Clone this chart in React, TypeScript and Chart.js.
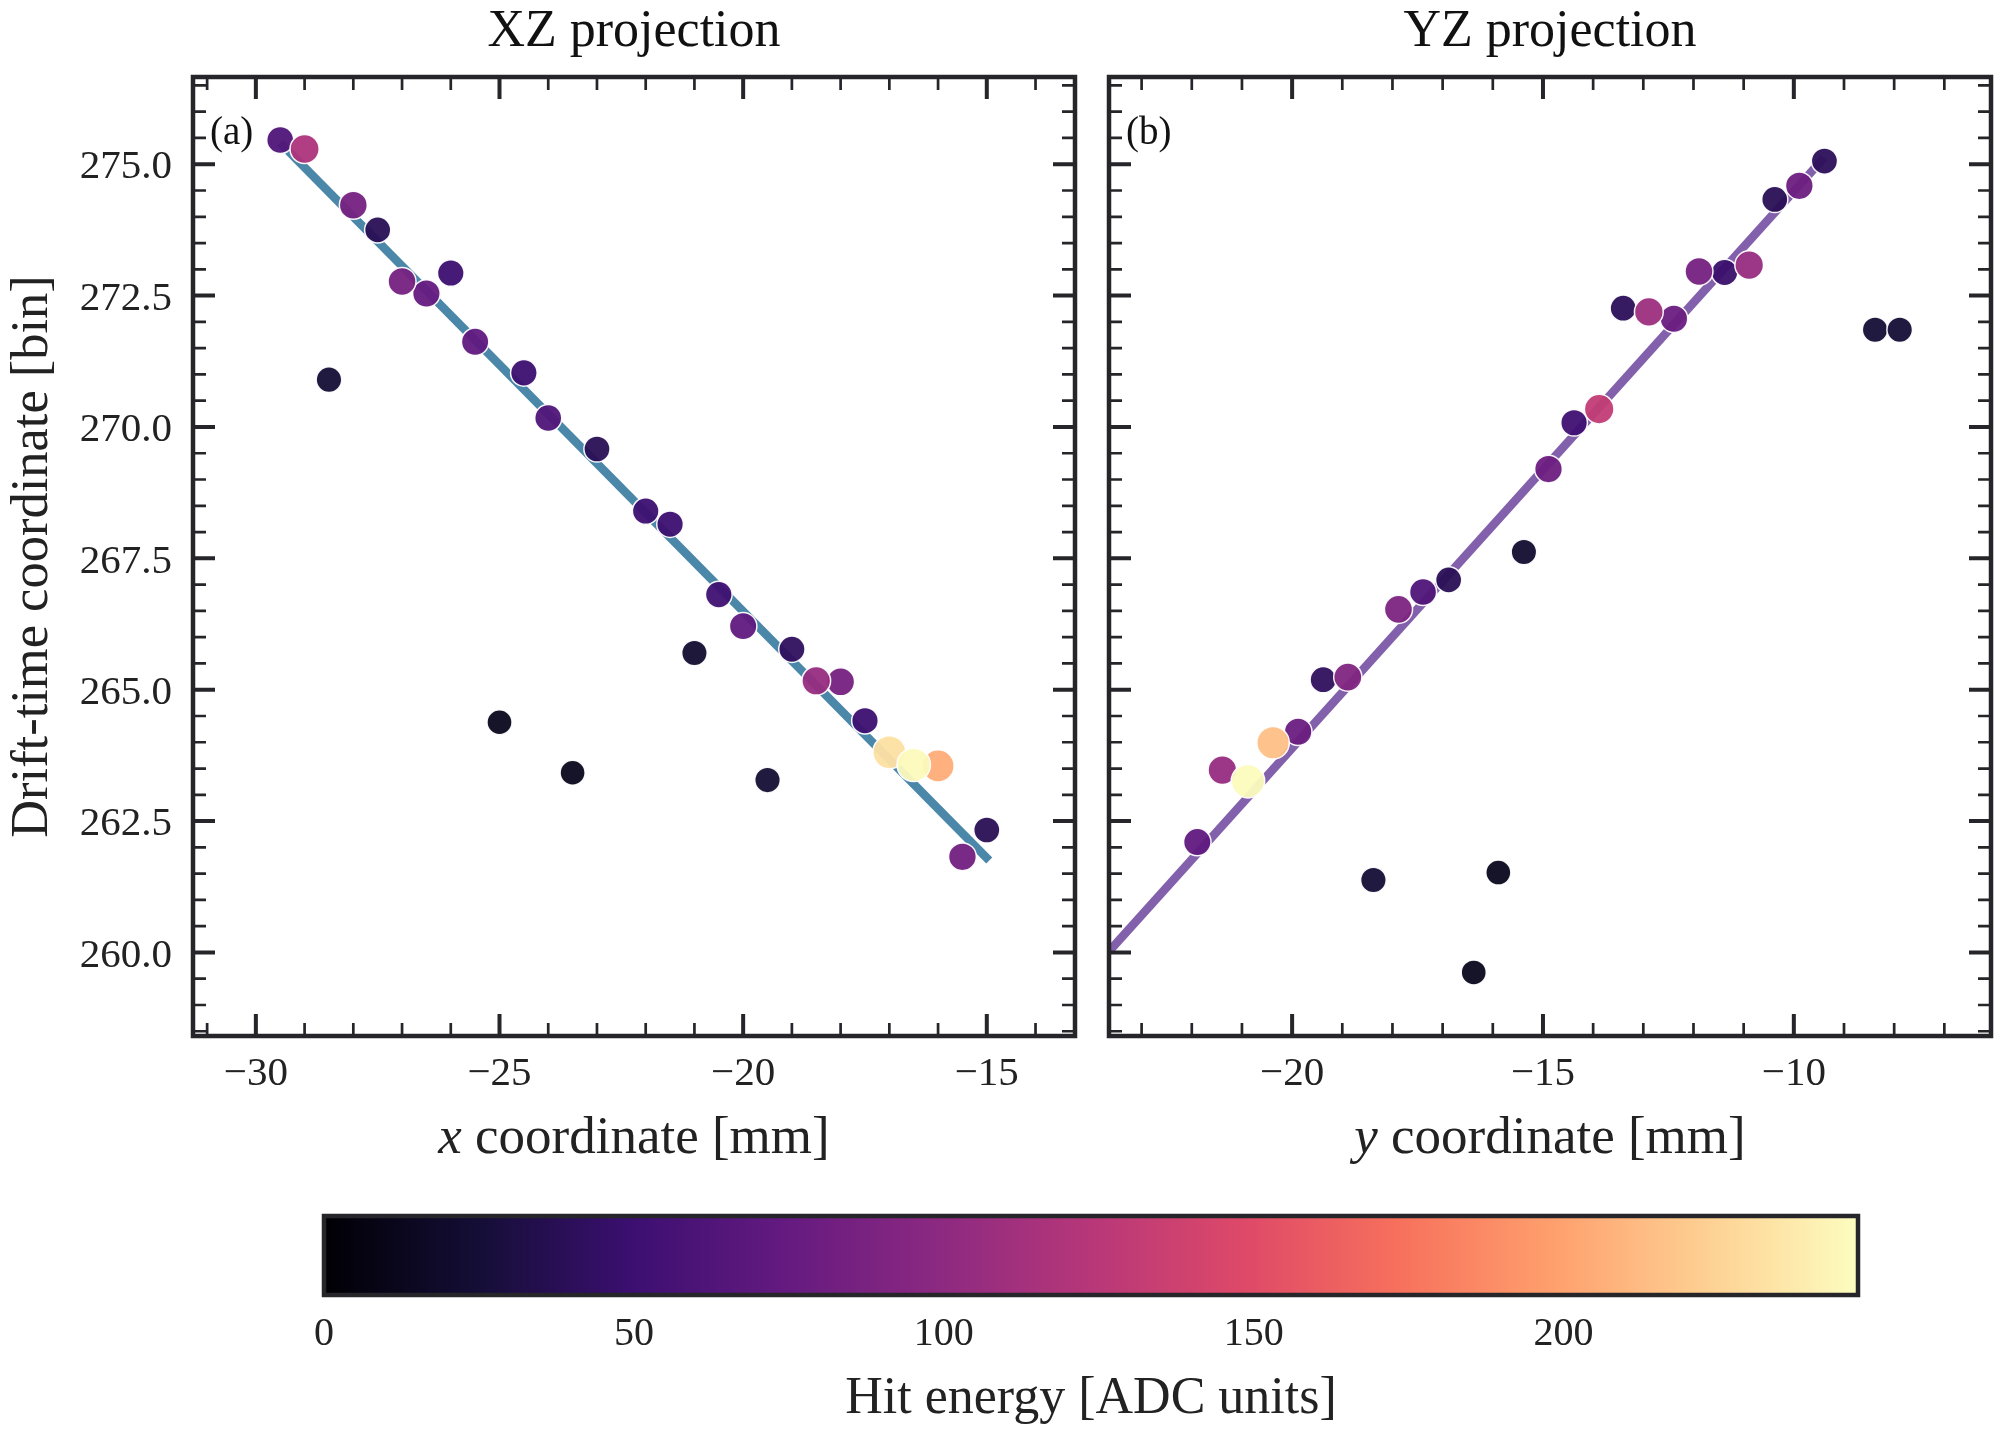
import React, { useEffect, useRef } from "react";
import { Chart, registerables } from "chart.js";

Chart.register(...registerables);

const FONT = '"Liberation Serif"';
const INK = "#26262a";

const xzX = [-29.5,-29,-28,-27.5,-27,-26.5,-26,-25.5,-24.5,-24,-23,-22,-21.5,-20.5,-20,-19,-18.5,-18,-17.5,-17,-16.5,-16,-15.5,-15,-28.5,-25,-23.5,-21,-19.5];
const xzZ = [275.46,275.29,274.22,273.75,272.77,272.54,272.93,271.62,271.03,270.17,269.58,268.4,268.15,266.81,266.21,265.77,265.17,265.15,264.41,263.81,263.57,263.55,261.82,262.33,270.9,264.38,263.42,265.7,263.28];
const xzE = [62,118,85,38,85,75,50,72,50,62,38,50,50,52,72,42,105,85,50,232,246,205,82,38,25,12,12,22,24];

const yzY = [-9.39,-9.89,-10.38,-10.89,-11.38,-11.89,-12.39,-12.89,-13.4,-13.88,-14.38,-14.89,-15.38,-16.88,-17.39,-17.88,-18.89,-19.38,-19.88,-20.38,-20.88,-21.39,-21.89,-18.38,-15.89,-16.38,-8.38,-7.89];
const yzZ = [275.06,274.59,274.33,273.08,272.94,272.96,272.06,272.19,272.26,270.34,270.08,269.2,267.62,267.09,266.86,266.53,265.24,265.19,264.2,263.99,263.26,263.47,262.1,261.38,261.52,259.62,271.85,271.85];
const yzE = [40,80,38,105,48,85,78,108,40,130,52,80,22,38,62,90,92,42,78,215,247,105,72,25,12,12,25,25];

const fitXZx = [-29.5, -14.95];
const fitXZz = [275.41, 261.75];
const fitYZy = [-23.65, -9.4];
const fitYZz = [260.02, 275.12];

const magmaStops = ["#000004","#140e36","#3b0f70","#641a80","#8c2981","#b73779","#de4968","#f7705c","#fe9f6d","#fecf92","#fcfdbf"];
const colorbarRange = [0, 247.5];
const colorbarTicks = [0, 50, 100, 150, 200];

const hex = (h: string) => [1, 3, 5].map((i) => parseInt(h.slice(i, i + 2), 16));
function magma(e: number) {
  const t = Math.min(1, Math.max(0, e / colorbarRange[1])) * (magmaStops.length - 1);
  const i = Math.min(magmaStops.length - 2, Math.floor(t));
  const a = hex(magmaStops[i]);
  const b = hex(magmaStops[i + 1]);
  const f = t - i;
  const c = a.map((v, k) => Math.round(v + (b[k] - v) * f));
  return `rgba(${c[0]},${c[1]},${c[2]},0.95)`;
}
const radiusOf = (e: number) => Math.sqrt(680 + 2.2 * e) / 2 - 0.75;

function hits(xs: number[], zs: number[], es: number[]) {
  const order = xs.map((_, i) => i).sort((a, b) => es[a] - es[b]);
  return {
    data: order.map((i) => ({ x: xs[i], y: zs[i] })),
    pointBackgroundColor: order.map((i) => magma(es[i])),
    pointRadius: order.map((i) => radiusOf(es[i])),
    pointHoverRadius: order.map((i) => radiusOf(es[i])),
    pointBorderColor: "rgba(255,255,255,0.95)",
    pointBorderWidth: 1.5,
    showLine: false,
    order: 1,
  };
}

const minusFmt = (v: number) => (v < 0 ? "\u2212" + Math.abs(v) : String(v));

function framePlugin(panelLabel: string, italic: string, rest: string) {
  return {
    id: "frame",
    afterDraw(chart: any) {
      const { ctx, chartArea: a } = chart;
      ctx.save();
      ctx.strokeStyle = INK;
      const sx = chart.scales.x;
      const sy = chart.scales.y;
      ctx.lineCap = "butt";
      for (const t of sx.ticks) {
        const p = sx.getPixelForValue(t.value);
        const major = t.label !== "";
        ctx.lineWidth = major ? 4 : 2.7;
        const len = major ? 22 : 13;
        ctx.beginPath();
        ctx.moveTo(p, a.top); ctx.lineTo(p, a.top + len);
        ctx.moveTo(p, a.bottom); ctx.lineTo(p, a.bottom - len);
        ctx.stroke();
      }
      for (const t of sy.ticks) {
        const p = sy.getPixelForValue(t.value);
        const major = t.label !== "";
        ctx.lineWidth = major ? 4 : 2.7;
        const len = major ? 22 : 13;
        ctx.beginPath();
        ctx.moveTo(a.left, p); ctx.lineTo(a.left + len, p);
        ctx.moveTo(a.right, p); ctx.lineTo(a.right - len, p);
        ctx.stroke();
      }
      ctx.lineWidth = 4.5;
      ctx.strokeRect(a.left, a.top, a.right - a.left, a.bottom - a.top);

      ctx.fillStyle = "#111";
      ctx.textBaseline = "middle";
      ctx.textAlign = "left";
      ctx.font = `39px ${FONT}`;
      ctx.fillText(panelLabel, a.left + 17, a.top + 57);

      ctx.fillStyle = "#222";
      ctx.textBaseline = "alphabetic";
      ctx.font = `italic 53px ${FONT}`;
      const w1 = ctx.measureText(italic).width;
      ctx.font = `53px ${FONT}`;
      const w2 = ctx.measureText(rest).width;
      const left = (a.left + a.right) / 2 - (w1 + w2) / 2;
      ctx.font = `italic 53px ${FONT}`;
      ctx.fillText(italic, left, 1153);
      ctx.font = `53px ${FONT}`;
      ctx.fillText(rest, left + w1, 1153);
      ctx.restore();
    },
  };
}

function panel(canvas: HTMLCanvasElement, o: any) {
  return new Chart(canvas, {
    type: "scatter",
    plugins: [framePlugin(o.tag, o.italic, o.rest)],
    data: {
      datasets: [
        { ...hits(o.xs, o.zs, o.es) },
        {
          data: o.fitX.map((x: number, i: number) => ({ x, y: o.fitZ[i] })),
          showLine: true,
          pointRadius: 0,
          borderColor: o.lineColor,
          borderWidth: 8.5,
          borderCapStyle: "butt",
          order: 2,
        },
      ],
    } as any,
    options: {
      responsive: false,
      animation: false,
      devicePixelRatio: 1,
      events: [],
      layout: { autoPadding: false, padding: o.padding },
      plugins: {
        legend: { display: false },
        tooltip: { enabled: false },
        title: {
          display: true,
          text: o.title,
          fullSize: false,
          color: "#111",
          font: { family: FONT, size: 52, lineHeight: 1, weight: "normal" },
          padding: { top: 6, bottom: 19 },
        },
      },
      scales: {
        x: {
          type: "linear",
          min: o.xMin,
          max: o.xMax,
          grid: { display: false, drawTicks: false },
          border: { display: false },
          afterFit: (s: any) => {
            s.height = 1180 - 1036;
            s.paddingLeft = 0;
            s.paddingRight = 0;
          },
          ticks: {
            stepSize: 1,
            includeBounds: false,
            autoSkip: false,
            maxRotation: 0,
            padding: 18,
            color: "#222",
            font: { family: FONT, size: 41, lineHeight: 1 },
            callback: (v: any) => (Number(v) % 5 === 0 ? minusFmt(Number(v)) : ""),
          },
        },
        y: {
          type: "linear",
          min: 258.41,
          max: 276.66,
          grid: { display: false, drawTicks: false },
          border: { display: false },
          afterFit: (s: any) => {
            s.width = o.yWidth;
            s.paddingTop = 0;
            s.paddingBottom = 0;
          },
          title: o.yTitle
            ? {
                display: true,
                text: o.yTitle,
                color: "#222",
                font: { family: FONT, size: 52.5, lineHeight: 1 },
                padding: { top: 7, bottom: 0 },
              }
            : { display: false },
          ticks: {
            display: o.yLabels,
            stepSize: 0.5,
            includeBounds: false,
            autoSkip: false,
            padding: 21,
            labelOffset: 3.5,
            color: "#222",
            font: { family: FONT, size: 41, lineHeight: 1 },
            callback: (v: any) => (Math.abs(Number(v) % 2.5) < 1e-6 ? Number(v).toFixed(1) : ""),
          },
        },
      },
    } as any,
  });
}

function colorbar(canvas: HTMLCanvasElement) {
  return new Chart(canvas, {
    type: "bar",
    plugins: [
      {
        id: "cbframe",
        afterDraw(chart: any) {
          const { ctx, chartArea: a } = chart;
          ctx.save();
          ctx.strokeStyle = INK;
          ctx.lineWidth = 4.5;
          ctx.strokeRect(a.left, a.top, a.right - a.left, a.bottom - a.top);
          ctx.restore();
        },
      },
    ],
    data: {
      labels: ["Hit energy"],
      datasets: [
        {
          data: [colorbarRange],
          barPercentage: 1,
          categoryPercentage: 1,
          backgroundColor: (c: any) => {
            const a = c.chart.chartArea;
            if (!a) return magmaStops[0];
            const g = c.chart.ctx.createLinearGradient(a.left, 0, a.right, 0);
            magmaStops.forEach((s, i) => g.addColorStop(i / (magmaStops.length - 1), s));
            return g;
          },
        },
      ],
    } as any,
    options: {
      indexAxis: "y",
      responsive: false,
      animation: false,
      devicePixelRatio: 1,
      events: [],
      layout: { autoPadding: false, padding: { left: 324, right: 142, top: 16, bottom: 0 } },
      plugins: { legend: { display: false }, tooltip: { enabled: false } },
      scales: {
        y: { display: false },
        x: {
          type: "linear",
          min: colorbarRange[0],
          max: colorbarRange[1],
          grid: { display: false, drawTicks: false },
          border: { display: false },
          afterBuildTicks: (s: any) => { s.ticks = colorbarTicks.map((value) => ({ value })); },
          afterFit: (s: any) => { s.height = 1434 - 1295; },
          title: {
            display: true,
            text: "Hit energy [ADC units]",
            color: "#222",
            font: { family: FONT, size: 52, lineHeight: 1 },
            padding: { top: 0, bottom: 9 },
          },
          ticks: {
            autoSkip: false,
            maxRotation: 0,
            padding: 19,
            color: "#222",
            font: { family: FONT, size: 40, lineHeight: 1 },
          },
        },
      },
    } as any,
  });
}

export default function App() {
  const a = useRef<HTMLCanvasElement>(null);
  const b = useRef<HTMLCanvasElement>(null);
  const c = useRef<HTMLCanvasElement>(null);
  useEffect(() => {
    const charts = [
      panel(a.current!, {
        tag: "(a)", italic: "x", rest: " coordinate [mm]", title: "XZ projection",
        xs: xzX, zs: xzZ, es: xzE, fitX: fitXZx, fitZ: fitXZz, lineColor: "#4a87a9",
        xMin: -31.29, xMax: -13.19, yWidth: 193, yLabels: true,
        yTitle: "Drift-time coordinate [bin]",
        padding: { left: 0, right: 16, top: 0, bottom: 0 },
      }),
      panel(b.current!, {
        tag: "(b)", italic: "y", rest: " coordinate [mm]", title: "YZ projection",
        xs: yzY, zs: yzZ, es: yzE, fitX: fitYZy, fitZ: fitYZz, lineColor: "#8360ab",
        xMin: -23.65, xMax: -6.07, yWidth: 0, yLabels: false, yTitle: "",
        padding: { left: 18, right: 9, top: 0, bottom: 0 },
      }),
      colorbar(c.current!),
    ];
    return () => charts.forEach((ch) => ch.destroy());
  }, []);
  const box: React.CSSProperties = { position: "absolute" };
  return (
    <div style={{ position: "absolute", left: 0, top: 0, width: 2000, height: 1434, background: "#fff", overflow: "hidden" }}>
      <canvas ref={a} width={1091} height={1180} style={{ ...box, left: 0, top: 0 }} />
      <canvas ref={b} width={909} height={1180} style={{ ...box, left: 1091, top: 0 }} />
      <canvas ref={c} width={2000} height={234} style={{ ...box, left: 0, top: 1200 }} />
    </div>
  );
}
